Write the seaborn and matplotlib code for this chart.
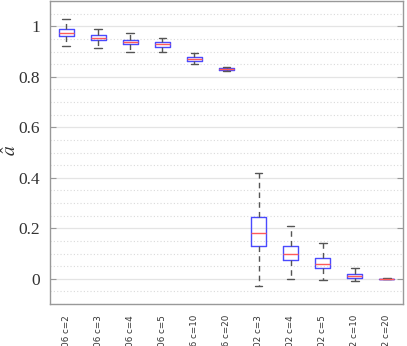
import numpy as np
import pandas as pd
import matplotlib
matplotlib.use("Agg")
import matplotlib.pyplot as plt
import seaborn as sns
from matplotlib.ticker import MultipleLocator

labels = ["2006 c=2", "2006 c=3", "2006 c=4", "2006 c=5", "2006 c=10", "2006 c=20",
          "2002 c=3", "2002 c=4", "2002 c=5", "2002 c=10", "2002 c=20"]
whisker_low = [0.920, 0.913, 0.900, 0.897, 0.849, 0.821, -0.028, 0.000, -0.004, -0.008, -0.001]
q1 = [0.960, 0.944, 0.929, 0.917, 0.861, 0.825, 0.131, 0.075, 0.044, 0.004, -0.0005]
median = [0.972, 0.952, 0.937, 0.928, 0.869, 0.829, 0.183, 0.099, 0.060, 0.010, 0.000]
q3 = [0.988, 0.964, 0.944, 0.936, 0.877, 0.833, 0.246, 0.131, 0.083, 0.020, 0.0005]
whisker_high = [1.030, 0.990, 0.972, 0.952, 0.893, 0.837, 0.420, 0.210, 0.143, 0.044, 0.001]
ytick_vals = [0, 0.2, 0.4, 0.6, 0.8, 1.0]
ytick_labels = ["0", "0.2", "0.4", "0.6", "0.8", "1"]

rows = []
for lab, a, b, c, d, e in zip(labels, whisker_low, q1, median, q3, whisker_high):
    for v in (a, b, c, d, e):
        rows.append({"label": lab, "value": v})
df = pd.DataFrame(rows)

sns.set_style("white")
plt.rcParams["mathtext.fontset"] = "stix"

fig = plt.figure(figsize=(4.07, 3.46), dpi=100)
ax = fig.add_axes([50 / 407, 1 - 304 / 346, 353 / 407, 303 / 346])

ax.yaxis.set_minor_locator(MultipleLocator(0.05))
ax.grid(True, which="major", axis="y", color="#e4e4e4", linewidth=0.9, linestyle="-")
ax.grid(True, which="minor", axis="y", color="#dadada", linewidth=0.8, linestyle=(0, (1, 2)))
ax.set_axisbelow(True)

sns.boxplot(data=df, x="label", y="value", order=labels, ax=ax, whis=np.inf,
            width=0.47, fill=False, color="#4a4aff", linewidth=1.0,
            boxprops=dict(color="#4a4aff", linewidth=1.0),
            medianprops=dict(color="#ff5a5a", linewidth=1.0),
            whiskerprops=dict(color="#555555", linestyle=(0, (4, 3)), linewidth=1.0),
            capprops=dict(color="#555555", linewidth=1.0),
            showfliers=False)

ax.set_xlim(-0.5, 10.5)
ax.set_ylim(-0.1, 1.1)
ax.set_yticks(ytick_vals)
ax.set_yticklabels(ytick_labels)
ax.set_xticks(range(len(labels)))
ax.set_xticklabels(labels, rotation=90)
ax.tick_params(axis="y", which="major", direction="in", length=4, right=True, left=True,
               color="#999999", pad=7)
ax.tick_params(axis="y", which="minor", length=0)
ax.tick_params(axis="x", length=0, pad=8)
for t in ax.get_yticklabels():
    t.set_fontfamily("Liberation Serif")
    t.set_fontsize(12.5)
    t.set_color("#333333")
for t in ax.get_xticklabels():
    t.set_fontfamily("DejaVu Sans")
    t.set_fontsize(6.3)
    t.set_color("#333333")
ax.set_xlabel("")
ax.set_ylabel(r"$\hat{a}$", fontsize=14, color="#333333")
ax.yaxis.set_label_coords(-30 / 353, 0.508)
for s in ax.spines.values():
    s.set_color("#999999")
    s.set_linewidth(1.0)

fig.savefig("out.png", dpi=100)
